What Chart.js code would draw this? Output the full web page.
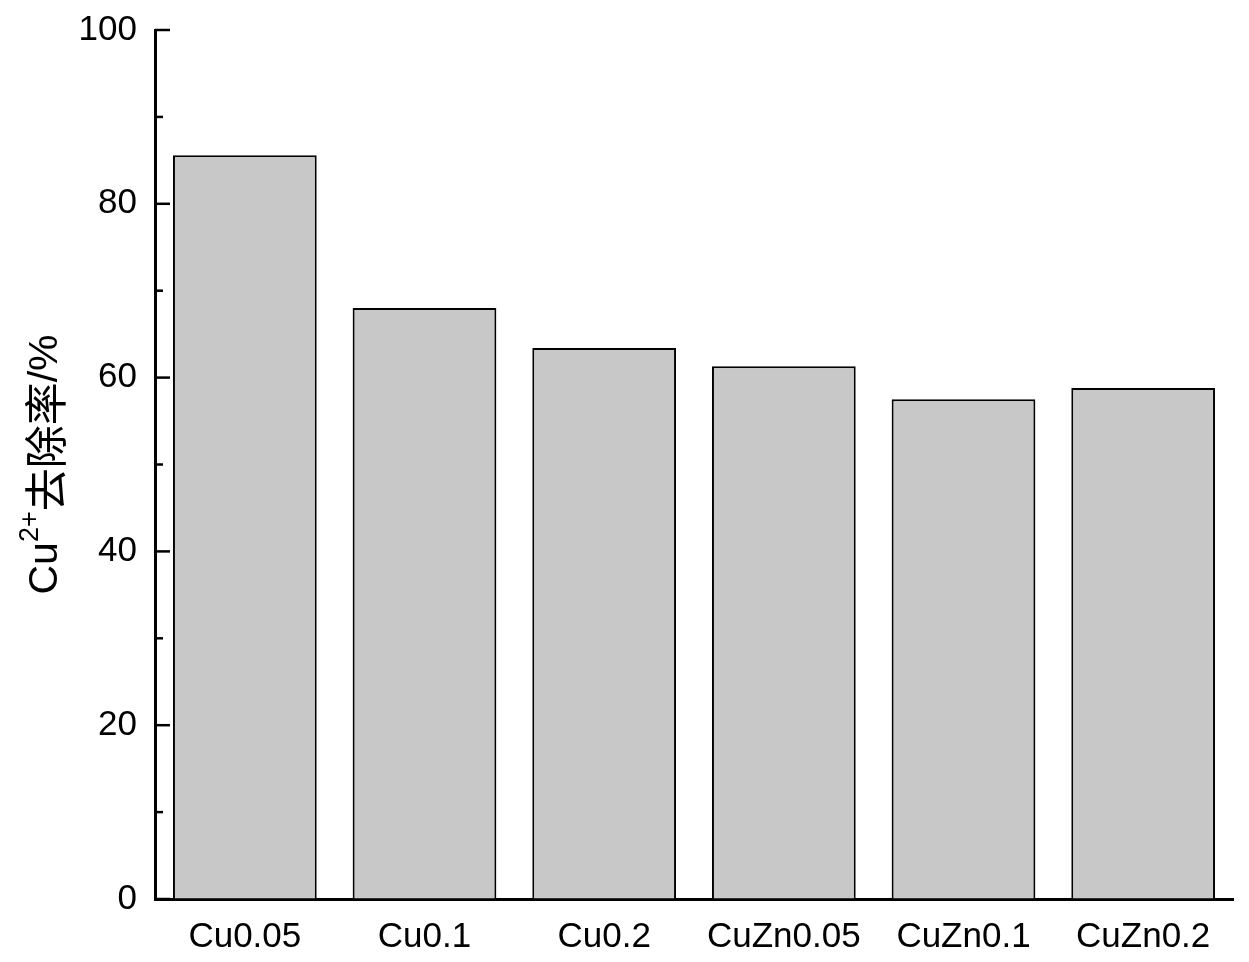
<!DOCTYPE html>
<html>
<head>
<meta charset="utf-8">
<script src="https://cdn.jsdelivr.net/npm/chart.js@4/dist/chart.umd.min.js"></script>
<style>
  html, body { margin: 0; padding: 0; background: #fff; }
  #wrap { width: 1249px; height: 962px; }
</style>
</head>
<body>
<div id="wrap"><canvas id="c" width="1249" height="962"></canvas></div>
<script>
const categories = ['Cu0.05', 'Cu0.1', 'Cu0.2', 'CuZn0.05', 'CuZn0.1', 'CuZn0.2'];
const removal = [85.6, 68.0, 63.4, 61.3, 57.5, 58.8];
const yTicks = [0, 20, 40, 60, 80, 100];

const font = '"Liberation Sans", Arial, sans-serif';

// inward ticks on the y axis: long at labelled values, short in between
const innerTicks = {
  id: 'innerTicks',
  afterDraw(chart) {
    const ctx = chart.ctx;
    const y = chart.scales.y;
    const left = chart.chartArea.left;
    ctx.save();
    ctx.strokeStyle = '#000';
    ctx.lineWidth = 2.5;
    for (let v = 0; v <= 100; v += 10) {
      const py = y.getPixelForValue(v);
      const len = yTicks.includes(v) ? 15 : 8;
      ctx.beginPath();
      ctx.moveTo(left, py);
      ctx.lineTo(left + len, py);
      ctx.stroke();
    }
    ctx.restore();
  }
};

// y title with superscript
const yTitle = {
  id: 'yTitle',
  afterDraw(chart) {
    const ctx = chart.ctx;
    const a = chart.chartArea;
    ctx.save();
    ctx.translate(46, (a.top + a.bottom) / 2);
    ctx.rotate(-Math.PI / 2);
    ctx.fillStyle = '#000';
    ctx.textBaseline = 'middle';
    const parts = [
      { t: 'Cu', f: '41px ' + font, dy: 0 },
      { t: '2+', f: '27px ' + font, dy: -15 },
      { t: '去除率', f: '43px "Noto Sans CJK SC", sans-serif', dy: 0 },
      { t: '/%', f: '41px ' + font, dy: 0 }
    ];
    let w = 0;
    parts.forEach(p => { ctx.font = p.f; p.w = ctx.measureText(p.t).width; w += p.w; });
    let x = -w / 2;
    ctx.textAlign = 'left';
    parts.forEach(p => { ctx.font = p.f; ctx.fillText(p.t, x, p.dy); x += p.w; });
    ctx.restore();
  }
};

new Chart(document.getElementById('c'), {
  type: 'bar',
  data: {
    labels: categories,
    datasets: [{
      data: removal,
      backgroundColor: '#c8c8c8',
      borderColor: '#000',
      borderWidth: 2,
      barPercentage: 0.8,
      categoryPercentage: 1.0
    }]
  },
  options: {
    responsive: false,
    animation: false,
    layout: { padding: { top: 30, right: 16, left: 0, bottom: 0 } },
    plugins: { legend: { display: false }, tooltip: { enabled: false } },
    scales: {
      x: {
        grid: { display: true, drawOnChartArea: false, drawTicks: false },
        border: { color: '#000', width: 3 },
        ticks: { color: '#000', font: { family: font, size: 35 }, padding: 17, maxRotation: 0 },
        afterFit(s) { s.height = 63; s.paddingLeft = 0; s.paddingRight = 0; }
      },
      y: {
        min: 0,
        max: 100,
        grid: { display: true, drawOnChartArea: false, drawTicks: false },
        border: { color: '#000', width: 3 },
        ticks: { stepSize: 20, color: '#000', font: { family: font, size: 35 }, padding: 18 },
        afterFit(s) { s.width = 155; s.paddingTop = 0; s.paddingBottom = 0; }
      }
    }
  },
  plugins: [innerTicks, yTitle]
});
</script>
</body>
</html>
